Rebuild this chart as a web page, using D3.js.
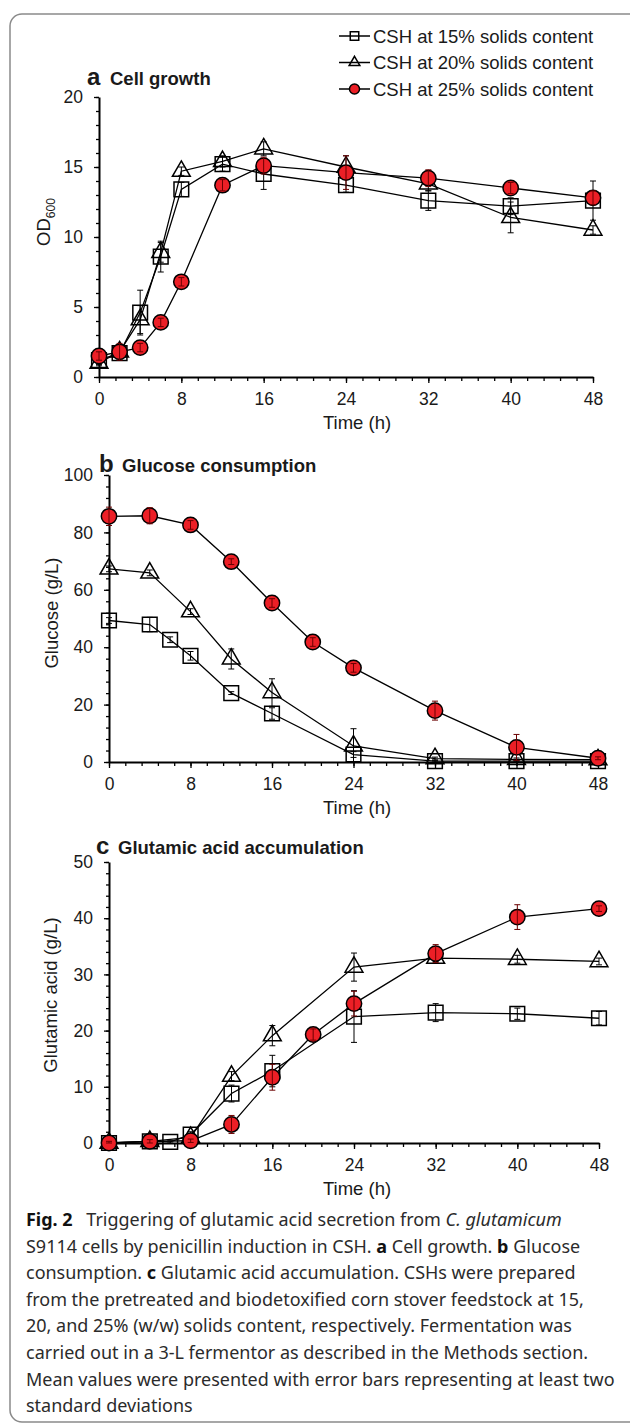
<!DOCTYPE html>
<html>
<head>
<meta charset="UTF-8">
<style>
    body {
        margin: 0;
        background: #fff;
    }

    #chart text {
        font-family: "Liberation Sans", Arial, sans-serif;
        fill: #1a1a1a;
    }

    #chart .caption text {
        font-family: "Noto Sans", sans-serif;
        fill: #2b2b2b;
    }
</style>
<title>Fig. 2</title>
</head>
<body>
<svg id="chart" width="630" height="1428"></svg>

<script src="https://cdn.jsdelivr.net/npm/d3@7"></script>
<script>
    // series + ticks
    const seriesNames = ["CSH at 15% solids content", "CSH at 20% solids content", "CSH at 25% solids content"];
    const xTicks = [0, 8, 16, 24, 32, 40, 48];

    // a: cell growth (OD600)
    const growthTime = [0, 2, 4, 6, 8, 12, 16, 24, 32, 40, 48];
    const growth15 = [1.2, 1.7, 4.6, 8.6, 13.4, 15.2, 14.5, 13.7, 12.6, 12.2, 12.6];
    const growth15Err = [0.3, 0.4, 1.6, 1.1, 0.5, 0.5, 1.1, 0.5, 0.7, 0.6, 1.4];
    const growth20 = [1.0, 1.8, 4.1, 8.9, 14.7, 15.4, 16.3, 15.0, 13.8, 11.4, 10.5];
    const growth20Err = [0.2, 0.5, 1.0, 0.7, 0.3, 0.4, 0.5, 0.8, 0.5, 1.1, 0.3];
    const growth25 = [1.5, 1.8, 2.1, 3.9, 6.8, 13.7, 15.1, 14.6, 14.2, 13.5, 12.8];
    const growth25Err = [0.3, 0.6, 0.3, 0.3, 0.3, 0.4, 0.6, 1.2, 0.6, 0.4, 0.5];

    // b: glucose (g/L)
    const glucTime15 = [0, 4, 6, 8, 12, 16, 24, 32, 40, 48];
    const gluc15 = [49.3, 47.9, 42.6, 37.0, 24.0, 16.9, 2.6, 0.3, 0.3, 0.3];
    const gluc15Err = [1, 2.5, 1, 1.5, 0.5, 2, 1, 0.3, 0.3, 0.3];
    const glucTime20 = [0, 4, 8, 12, 16, 24, 32, 40, 48];
    const gluc20 = [67.3, 65.9, 52.4, 35.9, 24.2, 5.6, 1.2, 0.9, 0.8];
    const gluc20Err = [1, 1, 1, 3.5, 4.8, 6, 0.5, 0.5, 0.5];
    const glucTime25 = [0, 4, 8, 12, 16, 20, 24, 32, 40, 48];
    const gluc25 = [85.6, 85.8, 82.6, 69.8, 55.4, 41.8, 32.8, 17.9, 5.1, 1.3];
    const gluc25Err = [3.2, 2.8, 1.5, 1, 1.5, 1.5, 1.5, 3.3, 4.5, 0.5];

    // c: glutamic acid (g/L)
    const gluTime15 = [0, 4, 6, 8, 12, 16, 24, 32, 40, 48];
    const glu15 = [0, 0.3, 0.2, 1.5, 8.8, 12.8, 22.5, 23.2, 23.0, 22.2];
    const glu15Err = [0.3, 0.3, 0.2, 0.5, 1.5, 2.8, 4.6, 1.6, 1, 1.2];
    const gluTime20 = [0, 4, 8, 12, 16, 24, 32, 40, 48];
    const glu20 = [0, 0.3, 1.0, 11.9, 19.1, 31.3, 32.9, 32.7, 32.3];
    const glu20Err = [0.3, 0.3, 0.5, 0.8, 1.8, 2.5, 0.6, 0.7, 0.6];
    const gluTime25 = [0, 4, 8, 12, 16, 20, 24, 32, 40, 48];
    const glu25 = [0, 0.3, 0.4, 3.3, 11.7, 19.3, 24.8, 33.7, 40.2, 41.7];
    const glu25Err = [0.3, 0.3, 0.3, 1.6, 2.3, 1, 2.2, 1.6, 2.2, 0.5];

    const RED = "#ec1f26";
    const shapes = ["square", "triangle", "circle"];

    const svg = d3.select("#chart");
    svg.append("rect").attr("width", 630).attr("height", 1428).attr("fill", "#fff");
    svg.append("rect")
        .attr("x", 10).attr("y", 14)
        .attr("width", 640).attr("height", 1408)
        .attr("rx", 12)
        .attr("fill", "none")
        .attr("stroke", "#8a8a8a")
        .attr("stroke-width", 1.5);


    function drawMarker(g, shape, cx, cy, big) {
        let sym;
        if (shape === "square") sym = d3.symbol(d3.symbolSquare, big ? 215 : 72);
        else if (shape === "triangle") sym = d3.symbol(d3.symbolTriangle, big ? 138 : 50);
        else sym = d3.symbol(d3.symbolCircle, big ? 185 : 80);

        g.append("path")
            .attr("d", sym())
            .attr("transform", `translate(${cx},${cy})`)
            .attr("fill", shape === "circle" ? RED : "none")
            .attr("stroke", "#000")
            .attr("stroke-width", 1.5);
    }


    function drawPanel(p) {
        const x = d3.scaleLinear().domain([0, 48]).range([p.left, p.right]);
        const y = d3.scaleLinear().domain([0, p.yMax]).range([p.bottom, p.top]);
        const g = svg.append("g");

        // minor ticks first
        g.append("g")
            .attr("transform", `translate(0,${p.bottom})`)
            .call(d3.axisBottom(x).tickValues(d3.range(0, 48.001, 1.6)).tickSize(4).tickFormat(""))
            .call(s => s.select(".domain").remove());
        g.append("g")
            .attr("transform", `translate(${p.left},0)`)
            .call(d3.axisLeft(y).tickValues(d3.range(0, p.yMax + 0.001, p.yMinor)).tickSize(3).tickFormat(""))
            .call(s => s.select(".domain").remove());

        const xa = g.append("g")
            .attr("transform", `translate(0,${p.bottom})`)
            .call(d3.axisBottom(x).tickValues(xTicks).tickSize(6).tickSizeOuter(0).tickPadding(10));
        const ya = g.append("g")
            .attr("transform", `translate(${p.left},0)`)
            .call(d3.axisLeft(y).tickValues(d3.range(0, p.yMax + 0.001, p.yStep)).tickSize(5).tickSizeOuter(0).tickPadding(11));

        g.selectAll(".tick line").attr("stroke", "#000").attr("stroke-width", 1.3);
        g.selectAll(".domain").attr("stroke", "#000").attr("stroke-width", 2);
        [xa, ya].forEach(a => a.selectAll("text").attr("font-size", 17.5));

        // axis titles
        g.append("text")
            .attr("x", 357).attr("y", p.bottom + 52)
            .attr("text-anchor", "middle")
            .attr("font-size", 18.5)
            .text("Time (h)");

        const yt = g.append("text")
            .attr("transform", `translate(${p.yTitleX},${p.yTitleY}) rotate(-90)`)
            .attr("text-anchor", "middle")
            .attr("font-size", 18.5)
            .text(p.yLabel);
        if (p.ySub) {
            yt.append("tspan")
                .attr("font-size", 12)
                .attr("dy", 5)
                .text(p.ySub);
        }

        // panel title
        g.append("text")
            .attr("x", p.letterX).attr("y", p.titleY)
            .attr("font-size", 24).attr("font-weight", "bold")
            .text(p.letter);
        g.append("text")
            .attr("x", p.titleX).attr("y", p.titleY)
            .attr("font-size", 18.5).attr("font-weight", "bold")
            .text(p.title);

        // series: lines, markers, error bars
        p.series.forEach((s, k) => {
            const pts = s.t.map((t, i) => ({ t: t, v: s.v[i], e: s.e[i] }));

            g.append("path")
                .datum(pts)
                .attr("fill", "none")
                .attr("stroke", "#000")
                .attr("stroke-width", 1.3)
                .attr("d", d3.line().x(d => x(d.t)).y(d => y(d.v)));

            pts.forEach(d => drawMarker(g, shapes[k], x(d.t), y(d.v), true));

            pts.forEach(d => {
                const lo = y(Math.max(0, d.v - d.e));
                const hi = y(d.v + d.e);
                const cx = x(d.t);
                g.append("path")
                    .attr("d", `M${cx},${lo}V${hi}M${cx - 3},${lo}H${cx + 3}M${cx - 3},${hi}H${cx + 3}`)
                    .attr("stroke", k === 2 ? "#6b0000" : "#000")
                    .attr("stroke-width", 1)
                    .attr("fill", "none");
            });
        });
    }


    drawPanel({
        letter: "a", title: "Cell growth",
        letterX: 87, titleX: 110, titleY: 85,
        left: 99, right: 593, top: 97, bottom: 377,
        yMax: 20, yStep: 5, yMinor: 1,
        yLabel: "OD", ySub: "600", yTitleX: 50, yTitleY: 222,
        series: [
            { t: growthTime, v: growth15, e: growth15Err },
            { t: growthTime, v: growth20, e: growth20Err },
            { t: growthTime, v: growth25, e: growth25Err }
        ]
    });

    drawPanel({
        letter: "b", title: "Glucose consumption",
        letterX: 99, titleX: 122, titleY: 472,
        left: 109, right: 598, top: 475, bottom: 762,
        yMax: 100, yStep: 20, yMinor: 4,
        yLabel: "Glucose (g/L)", yTitleX: 57.5, yTitleY: 613,
        series: [
            { t: glucTime15, v: gluc15, e: gluc15Err },
            { t: glucTime20, v: gluc20, e: gluc20Err },
            { t: glucTime25, v: gluc25, e: gluc25Err }
        ]
    });

    drawPanel({
        letter: "c", title: "Glutamic acid accumulation",
        letterX: 96, titleX: 118, titleY: 854,
        left: 109, right: 599, top: 862, bottom: 1143,
        yMax: 50, yStep: 10, yMinor: 2,
        yLabel: "Glutamic acid (g/L)", yTitleX: 56.5, yTitleY: 995,
        series: [
            { t: gluTime15, v: glu15, e: glu15Err },
            { t: gluTime20, v: glu20, e: glu20Err },
            { t: gluTime25, v: glu25, e: glu25Err }
        ]
    });

    // legend
    const legend = svg.append("g");
    seriesNames.forEach((name, i) => {
        const cy = 36 + i * 26.5;
        legend.append("line")
            .attr("x1", 339).attr("x2", 370)
            .attr("y1", cy).attr("y2", cy)
            .attr("stroke", "#000").attr("stroke-width", 1.5);
        drawMarker(legend, shapes[i], 354.5, cy, false);
        legend.append("text")
            .attr("x", 373).attr("y", cy + 6.5)
            .attr("font-size", 18.5)
            .text(name);
    });

    // caption
    const captionLines = [
        [["Fig. 2", "b"], [" \u2002Triggering of glutamic acid secretion from ", ""], ["C. glutamicum", "i"]],
        [["S9114 cells by penicillin induction in CSH. ", ""], ["a", "b"], [" Cell growth. ", ""], ["b", "b"], [" Glucose", ""]],
        [["consumption. ", ""], ["c", "b"], [" Glutamic acid accumulation. CSHs were prepared", ""]],
        [["from the pretreated and biodetoxified corn stover feedstock at 15,", ""]],
        [["20, and 25% (w/w) solids content, respectively. Fermentation was", ""]],
        [["carried out in a 3-L fermentor as described in the Methods section.", ""]],
        [["Mean values were presented with error bars representing at least two", ""]],
        [["standard deviations", ""]]
    ];

    const cap = svg.append("g").attr("class", "caption");
    const capTexts = captionLines.map((parts, i) => {
        const t = cap.append("text")
            .attr("x", 0).attr("y", 1226 + i * 26.6)
            .attr("font-size", 18)
            .style("white-space", "pre");
        parts.forEach(([str, st]) => {
            const ts = t.append("tspan").text(str);
            if (st === "b") ts.attr("font-weight", "bold").style("fill", "#111");
            if (st === "i") ts.attr("font-style", "italic");
        });
        return t;
    });
    // squeeze the caption so the long line fits the box like the original
    const longest = capTexts[6].node().getComputedTextLength();
    const k = 589 / longest;
    cap.attr("transform", `translate(26,0) scale(${k},1)`);
</script>
</body>
</html>
